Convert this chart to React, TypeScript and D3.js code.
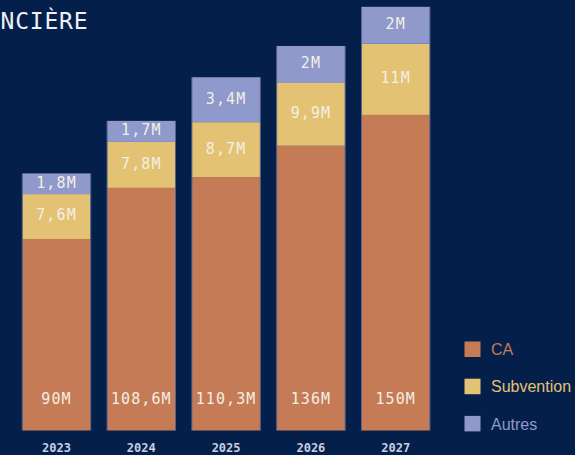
import React from "react";
import { scaleBand, scaleLinear, stack } from "d3";

// bar heights as drawn in the picture (the infographic is not to scale with its labels)
const years = ["2023", "2024", "2025", "2026", "2027"];
const caValues = [90, 114, 119.1, 133.8, 148.3];
const subValues = [21.1, 21.6, 25.8, 29.5, 33.4];
const autresValues = [9.7, 9.9, 21.1, 17.4, 17.4];

// printed labels
const caLabels = ["90M", "108,6M", "110,3M", "136M", "150M"];
const subLabels = ["7,6M", "7,8M", "8,7M", "9,9M", "11M"];
const autresLabels = ["1,8M", "1,7M", "3,4M", "2M", "2M"];

const seriesKeys = ["CA", "Subvention", "Autres"];
const legendLabels = ["CA", "Subvention", "Autres"];
const colors = ["#c47b56", "#e4c273", "#8f99cc"];

const mono = "'DejaVu Sans Mono', monospace";

export default function App() {
  const width = 575,
    height = 455,
    baseline = 430.5,
    pxPerUnit = 2.128;

  const rows = years.map((year, i) => ({
    year,
    CA: caValues[i],
    Subvention: subValues[i],
    Autres: autresValues[i],
  }));
  const labels = [caLabels, subLabels, autresLabels];

  const x = scaleBand()
    .domain(years)
    .range([14.1, 438.1])
    .paddingInner(0.193)
    .paddingOuter(0.0965);

  const y = scaleLinear()
    .domain([0, baseline / pxPerUnit])
    .range([baseline, 0]);

  const stacked = stack().keys(seriesKeys)(rows as any);
  const top = stacked[stacked.length - 1];

  return (
    <div style={{ position: "fixed", left: 0, top: 0 }}>
      <svg width={width} height={height} style={{ display: "block", background: "#04204a" }}>
        <rect width={width} height={height} fill="#04204a" />
        <text
          x={0.5}
          y={29}
          fill="#eef0f4"
          fontFamily={mono}
          fontSize={23}
          letterSpacing={0.8}
        >
          NCIÈRE
        </text>

        {stacked.map((layer, si) => (
          <g key={layer.key}>
            {layer.map((d, i) => (
              <rect
                key={years[i]}
                x={x(years[i])}
                y={y(d[1])}
                width={x.bandwidth()}
                height={y(d[0]) - y(d[1])}
                fill={colors[si]}
              />
            ))}
          </g>
        ))}

        {/* thin grey edges on both sides of each bar */}
        {top.map((d, i) => {
          const x0 = x(years[i]) as number;
          return (
            <g key={years[i]} stroke="#56648f" strokeWidth={1}>
              <line x1={x0} x2={x0} y1={y(d[1])} y2={baseline} />
              <line
                x1={x0 + x.bandwidth()}
                x2={x0 + x.bandwidth()}
                y1={y(d[1])}
                y2={baseline}
              />
            </g>
          );
        })}

        {stacked.map((layer, si) => (
          <g key={layer.key + "-labels"}>
            {layer.map((d, i) => {
              const cx = (x(years[i]) as number) + x.bandwidth() / 2;
              const ty = si === 0 ? baseline - 32 : (y(d[0]) + y(d[1])) / 2 - 1.5;
              return (
                <text
                  key={years[i]}
                  x={cx}
                  y={ty}
                  dy="0.36em"
                  textAnchor="middle"
                  fill="#f3efe4"
                  fontFamily={mono}
                  fontSize={15}
                  letterSpacing={1.1}
                >
                  {labels[si][i]}
                </text>
              );
            })}
          </g>
        ))}

        {years.map((year) => (
          <text
            key={year}
            x={(x(year) as number) + x.bandwidth() / 2}
            y={448}
            dy="0.36em"
            textAnchor="middle"
            fill="#c9cee2"
            fontFamily={mono}
            fontSize={12}
            fontWeight="bold"
          >
            {year}
          </text>
        ))}

        {legendLabels.map((label, i) => (
          <g key={label} transform={`translate(464.5,${341.5 + i * 37.2})`}>
            <rect width={16} height={15.5} fill={colors[i]} />
            <text
              x={26.5}
              y={8}
              dy="0.36em"
              fill={colors[i]}
              fontFamily="'Liberation Sans', Arial, sans-serif"
              fontSize={16}
            >
              {label}
            </text>
          </g>
        ))}
      </svg>
    </div>
  );
}
